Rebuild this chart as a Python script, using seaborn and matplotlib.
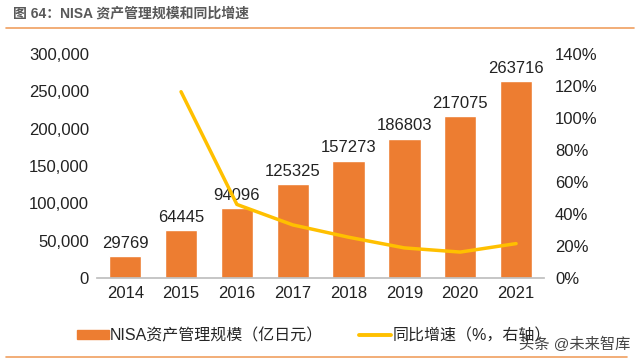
import pandas as pd
import numpy as np
import matplotlib.pyplot as plt
import seaborn as sns
from matplotlib.patches import Patch
from matplotlib.lines import Line2D

years = ['2014', '2015', '2016', '2017', '2018', '2019', '2020', '2021']
aum = [29769, 64445, 94096, 125325, 157273, 186803, 217075, 263716]
growth = [np.nan, 116.5, 46.0, 33.2, 25.5, 18.8, 16.2, 21.5]

sns.set_theme(style='white')
plt.rcParams['font.family'] = ['Liberation Sans', 'Noto Sans CJK SC', 'DejaVu Sans']

df = pd.DataFrame({'year': years, 'aum': aum, 'growth': growth})

fig = plt.figure(figsize=(6.4, 3.61), dpi=100)
ax = fig.add_axes([0.152, 0.230, 0.698, 0.620])
sns.barplot(data=df, x='year', y='aum', color='#ED7D31', width=0.58,
            saturation=1, ax=ax)
ax.set_ylim(0, 300000)
ax.set_yticks(range(0, 300001, 50000))
ax.set_yticklabels([f'{v:,}' for v in range(0, 300001, 50000)])
ax.set_xlabel('')
ax.set_ylabel('')
for i, v in enumerate(aum):
    ax.text(i, v + 7000, str(v), ha='center', va='bottom', fontsize=12, color='#222222')
for s in ['top', 'right', 'left']:
    ax.spines[s].set_visible(False)
ax.spines['bottom'].set_color('#BFBFBF')
ax.tick_params(axis='both', labelsize=12, colors='#222222', length=0, pad=6)

ax2 = ax.twinx()
sns.lineplot(x=np.arange(len(years)), y=growth, color='#FFC000', linewidth=2.5, ax=ax2)
ax2.set_ylim(0, 140)
ax2.set_yticks(range(0, 141, 20))
ax2.set_yticklabels([f'{v}%' for v in range(0, 141, 20)])
for s in ['top', 'right', 'left', 'bottom']:
    ax2.spines[s].set_visible(False)
ax2.tick_params(axis='y', labelsize=12, colors='#222222', length=0, pad=8)
ax.set_xlim(-0.5, 7.5)

handles = [Patch(color='#ED7D31'), Line2D([0], [0], color='#FFC000', linewidth=2.8)]
fig.legend(handles, ['NISA资产管理规模（亿日元）', '同比增速（%，右轴）'],
           loc='center', bbox_to_anchor=(0.49, 0.07), ncol=2, frameon=False,
           fontsize=11.5, handlelength=2.0, handleheight=0.5, columnspacing=2.3,
           handletextpad=0.05)

fig.text(0.02, 0.962, '图 64：NISA 资产管理规模和同比增速', fontsize=10,
         fontweight='bold', color='#595959', va='center')
fig.add_artist(Line2D([0.01, 0.99], [0.922, 0.922], color='#F0A060', linewidth=1.2))
fig.add_artist(Line2D([0.01, 0.98], [0.01, 0.01], color='#F0A060', linewidth=1.2))
fig.text(0.985, 0.045, '头条 @未来智库', fontsize=11, color='#444444', ha='right', va='center')

fig.savefig('out.png', dpi=100)
